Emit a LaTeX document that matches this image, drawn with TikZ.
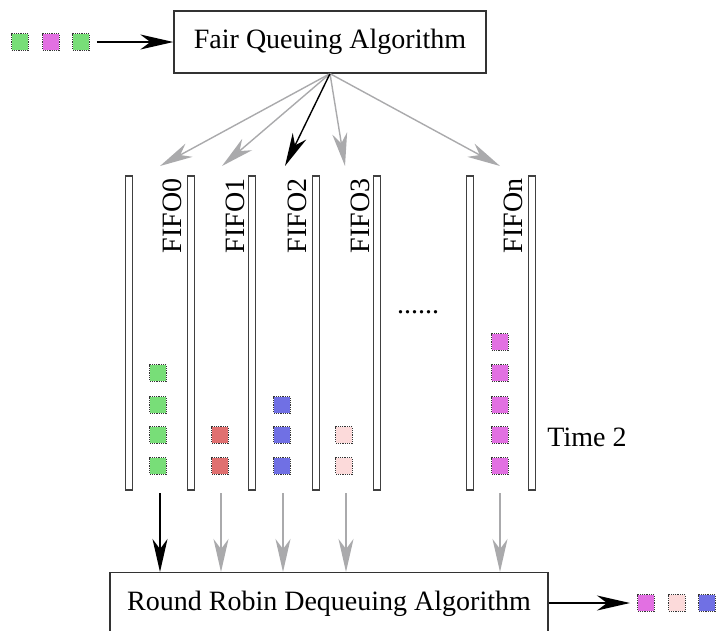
\documentclass[tikz,border=0pt]{standalone}
\usepackage{fontspec}
\setmainfont{Liberation Serif}
\usetikzlibrary{arrows.meta}
\definecolor{pgreen}{RGB}{120,222,120}
\definecolor{pmag}{RGB}{226,112,226}
\definecolor{pred}{RGB}{224,112,112}
\definecolor{pblue}{RGB}{112,112,228}
\definecolor{ppink}{RGB}{252,218,218}
\definecolor{garrow}{RGB}{170,170,172}
\begin{document}
\begin{tikzpicture}[x=1pt,y=-1pt,
  box/.style={draw=black!80, line width=1.3pt, fill=white, font=\fontsize{28}{32}\selectfont, inner sep=0pt},
  pkt/.style={draw=black!80, densely dotted, line width=1.2pt, minimum size=16.5pt, inner sep=0pt},
  pipe/.style={draw=black!75, line width=1.4pt, fill=white, minimum width=6.5pt, minimum height=314pt, inner sep=0pt},
  garr/.style={draw=garrow, line width=1.4pt, -{Stealth[length=33pt,width=15pt,inset=10pt]}},
  barr/.style={draw=black, line width=1.4pt, -{Stealth[length=33pt,width=15pt,inset=10pt]}},
  lbl/.style={font=\fontsize{28}{32}\selectfont, inner sep=0pt},
  fifolbl/.style={lbl, rotate=90}
]
\useasboundingbox (0,0) rectangle (717,630);
\clip (0,0) rectangle (717,630);

% boxes
\node[box, minimum width=312pt, minimum height=62pt] (fq) at (330,42) {Fair Queuing Algorithm};
\node[box, minimum width=438pt, minimum height=62pt, anchor=north] (rr) at (329,572) {Round Robin Dequeuing Algorithm};

% input packets
\node[pkt, fill=pgreen] (in1) at (20,42) {};
\node[pkt, fill=pmag] (in2) at (51,42) {};
\node[pkt, fill=pgreen] (in3) at (81,42) {};
\draw[barr] (in3.east) ++(7,0) coordinate (inarr) (inarr) -- (fq.west);

% output packets
\node[pkt, fill=pmag] (out1) at (646,603) {};
\node[pkt, fill=ppink] (out2) at (677,603) {};
\node[pkt, fill=pblue] (out3) at (707,603) {};
\coordinate (outarr) at (630,603);
\draw[barr] (rr.east |- outarr) -- (outarr);

% pipes
\node[pipe] (p0) at (129,333) {};
\node[pipe] (p1) at (191,333) {};
\node[pipe] (p2) at (252,333) {};
\node[pipe] (p3) at (316,333) {};
\node[pipe] (p4) at (377,333) {};
\node[pipe] (p5) at (470,333) {};
\node[pipe] (p6) at (532,333) {};

% labels
\node[fifolbl] (l0) at (172,216) {FIFO0};
\node[fifolbl] (l1) at (235,216) {FIFO1};
\node[fifolbl] (l2) at (297,216) {FIFO2};
\node[fifolbl] (l3) at (360,216) {FIFO3};
\node[fifolbl] (ln) at (513,216) {FIFOn};
\node[lbl] (dots) at (418,312) {......};
\node[lbl] (time) at (587,437) {Time 2};

% fan arrows
\coordinate (c0) at (160,166);
\coordinate (c1) at (222,166);
\coordinate (c2) at (285,166);
\coordinate (c3) at (345,166);
\coordinate (cn) at (500,166);
\draw[garr] (fq.south) -- (c0);
\draw[garr] (fq.south) -- (c1);
\draw[garr] (fq.south) -- (c3);
\draw[garr] (fq.south) -- (cn);
\draw[barr] (fq.south) -- (c2);

% packets in queues
\foreach \y [count=\i] in {373,405,435,466} \node[pkt, fill=pgreen] (q0\i) at (158,\y) {};
\foreach \y [count=\i] in {435,466} \node[pkt, fill=pred] (q1\i) at (220,\y) {};
\foreach \y [count=\i] in {405,435,466} \node[pkt, fill=pblue] (q2\i) at (282,\y) {};
\foreach \y [count=\i] in {435,466} \node[pkt, fill=ppink] (q3\i) at (344,\y) {};
\foreach \y [count=\i] in {342,373,405,435,466} \node[pkt, fill=pmag] (qn\i) at (500,\y) {};

% output arrows
\coordinate (b0) at (160,493);
\coordinate (b1) at (221,493);
\coordinate (b2) at (283,493);
\coordinate (b3) at (346,493);
\coordinate (bn) at (500,493);
\draw[barr] (b0) -- (b0 |- rr.north);
\draw[garr] (b1) -- (b1 |- rr.north);
\draw[garr] (b2) -- (b2 |- rr.north);
\draw[garr] (b3) -- (b3 |- rr.north);
\draw[garr] (bn) -- (bn |- rr.north);
\end{tikzpicture}
\end{document}
